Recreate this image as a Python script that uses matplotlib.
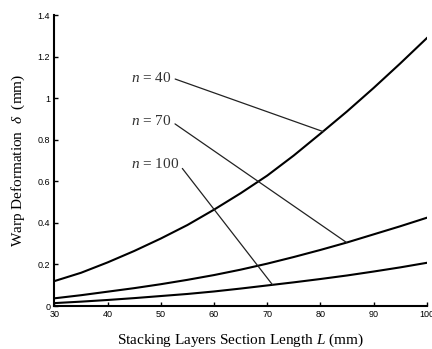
import matplotlib
matplotlib.use('Agg')
import matplotlib.pyplot as plt
from matplotlib.ticker import FuncFormatter

plt.rcParams['mathtext.fontset'] = 'custom'
plt.rcParams['mathtext.rm'] = 'Liberation Serif'
plt.rcParams['mathtext.it'] = 'Liberation Serif:italic'

# stacking layers section length L (mm)
length = [30, 35, 40, 45, 50, 55, 60, 65, 70, 75, 80, 85, 90, 95, 100]
# warp deformation (mm) for each n
warp_n40 = [0.12, 0.16, 0.21, 0.265, 0.325, 0.39, 0.464, 0.543, 0.628,
            0.725, 0.83, 0.937, 1.05, 1.168, 1.29]
warp_n70 = [0.037, 0.052, 0.069, 0.086, 0.105, 0.126, 0.149, 0.175, 0.204,
            0.236, 0.27, 0.306, 0.345, 0.384, 0.425]
warp_n100 = [0.014, 0.021, 0.029, 0.038, 0.048, 0.058, 0.07, 0.084, 0.099,
             0.114, 0.13, 0.147, 0.166, 0.186, 0.208]

labels = ['$n$ = 40', '$n$ = 70', '$n$ = 100']
# where the leader lines hit the curves, and where the texts sit
point_at = [(80.5, 0.84), (84.9, 0.306), (71.0, 0.102)]
text_at = [(44.3, 1.10), (44.3, 0.89), (44.3, 0.685)]

fig = plt.figure(figsize=(4.32, 3.49), dpi=100)
ax = fig.add_axes([0.126, 0.1232, 0.862, 0.833])

for w in [warp_n40, warp_n70, warp_n100]:
    ax.plot(length, w, color='black', lw=1.5)

for lab, p, t in zip(labels, point_at, text_at):
    ax.annotate(lab, xy=p, xytext=t, ha='left', va='center',
                fontsize=11, family='Liberation Serif', color='#333333',
                arrowprops=dict(arrowstyle='-', color='#222222', lw=0.9,
                                relpos=(1, 0.5), shrinkA=1, shrinkB=0))

ax.set_xlim(30, 100)
ax.set_ylim(0, 1.4)
ax.set_xticks(range(30, 101, 10))
ax.set_yticks([0, 0.2, 0.4, 0.6, 0.8, 1.0, 1.2, 1.4])
ax.yaxis.set_major_formatter(FuncFormatter(lambda v, p: '%g' % v))

for s in ['top', 'right']:
    ax.spines[s].set_visible(False)
for s in ['left', 'bottom']:
    ax.spines[s].set_linewidth(1.5)

ax.tick_params(direction='in', length=3, width=1, labelsize=6.5, pad=3)
for lab in ax.get_xticklabels() + ax.get_yticklabels():
    lab.set_family('Liberation Sans')

ax.set_xlabel('Stacking Layers Section Length $L$ (mm)', fontsize=11,
              family='Liberation Serif', labelpad=9)
ax.set_ylabel('Warp Deformation  $\\delta$  (mm)', fontsize=11,
              family='Liberation Serif', labelpad=8)

fig.savefig('out.png', dpi=100)
